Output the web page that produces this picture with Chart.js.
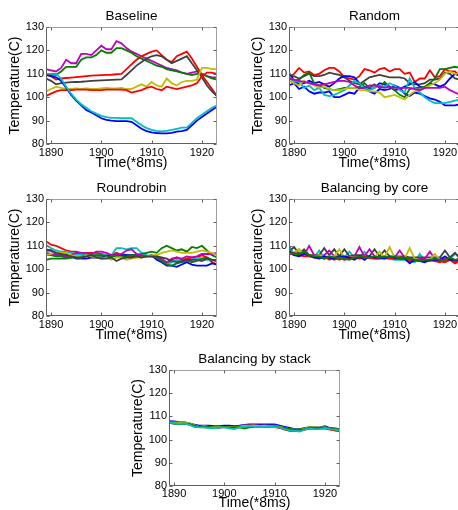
<!DOCTYPE html>
<html>
<head>
<meta charset="utf-8">
<script src="https://cdn.jsdelivr.net/npm/chart.js@4.4.1/dist/chart.umd.min.js"></script>
<style>
  html, body { margin: 0; padding: 0; background: #fff; overflow: hidden; }
  body { width: 458px; height: 510px; position: relative; }
  canvas { position: absolute; }
</style>
</head>
<body>
<canvas id="baseline" width="229" height="170" style="left:0;top:0"></canvas>
<canvas id="random" width="229" height="170" style="left:243px;top:0"></canvas>
<canvas id="roundrobin" width="229" height="170" style="left:0;top:172px"></canvas>
<canvas id="core" width="229" height="170" style="left:243px;top:172px"></canvas>
<canvas id="stack" width="229" height="167" style="left:123px;top:343px"></canvas>
<script>
// time axis (*8ms)
const years = [1889,1890,1891,1892,1893,1894,1895,1896,1897,1898,1899,1900,1901,1902,1903,1904,1905,1906,
  1907,1908,1909,1910,1911,1912,1913,1914,1915,1916,1917,1918,1919,1920,1921,1922,1923];
const xTicks = [1890, 1900, 1910, 1920];
const yTicks = [80, 90, 100, 110, 120, 130];

const BLUE = '#0000ff', GREEN = '#008000', RED = '#ff0000', CYAN = '#00bfbf',
      MAGENTA = '#bf00bf', YELLOW = '#bfbf00', GRAY = '#404040';

// Baseline
const baseMagenta = [112,111.5,111,112.5,116,114.5,114.5,118.5,118.5,118,120,122,120.5,120.5,124,123,121,119.5,118.5,117.5,116.5,115.5,114.5,113.5,112.5,112,111.5,110.5,110,110.5,111,110,109,108.5,108.5];
const baseGreen = [110,109.5,109.5,111,113,113,113,116,117,117,118,120,119,119,121,121,120,119,117.5,116.5,115.5,114.5,113.5,113,112,111.5,111,110.5,110,109.5,110,110,109,108,107.5];
const baseRed1 = [110,109,107.5,108,108.2,108.4,108.6,108.8,109,109.2,109.3,109.4,109.5,109.6,109.8,110,112,114,116,117.5,118.5,119.5,120,118,116,115,117.5,118.5,119.5,116.5,113,109.5,106.5,103.5,100.5];
const baseGray = [108,107,105.5,106,106.2,106.4,106.5,106.6,106.8,107,107.1,107.2,107.3,107.4,107.5,107.6,109.5,111.5,113.5,115,116.5,117.5,118,117.5,116,114.5,115.5,116.5,117.5,114.5,111.5,108.5,105,102.5,100.5];
const baseYellow = [102.5,103.5,104.5,104,103.5,103.5,103.8,103.5,103.8,103.5,103.5,103.8,104,103.8,103.8,104,103.5,103.5,104.5,105.5,104.5,106.5,105,104.5,108,106,105,106.5,107,107,107.5,112.5,112.5,112,112];
const baseRed2 = [100.5,101.5,102.5,103,103,103,103.2,103.2,103.2,103,103,103,103.2,103.2,103.2,103.2,103,102,102.5,103,104,104.5,103.5,103,104.5,104,103.5,104,104.5,105,106,109,110.5,110.5,110];
const baseCyan = [110,110,110,108,104.5,101.5,99,97,95.5,94,93,92,91.5,91.2,91.2,91,91,91,89.5,88,86.8,86,85.6,85.4,85.6,86,86.5,87,87,89,91,92.5,94,95.5,96.5];
const baseBlue = [109.5,109,108.5,107,104,101,98.5,96.5,94.5,93.5,92.3,91,90.3,90,89.8,89.8,89.8,89.5,88,86.5,85.5,85,84.7,84.5,84.5,84.8,85.3,85.5,86,88,90,91.5,93,94.5,96];

// Random
const randRed = [108,110,112.5,110.5,111,109.5,110,111.5,112.5,112.5,111,108.5,108,107.5,109,112,111.5,110.5,112,112.5,111,112,112,110,110.5,106.5,108,108,111.5,108.5,109,112,111,111,109];
const randGray = [108,109,108,109,110,109,109,109.5,110.5,110,109.5,108.5,107,106,105.5,107,108.5,109,109.5,109,108.5,108.5,108.5,108,106,105.5,105.5,106,107.5,107.5,108,110.5,110,108,107.5];
const randBlueA = [110.5,107,105.5,106,107,106,106.5,105.5,104.5,106,108,109,109,108.5,106,104.5,103.5,104,106,105.5,104.5,103,103.5,104.5,105.5,106.5,104.5,104,106,105.5,104.5,105.5,108,110,109];
const randBlueB = [105,106,103.5,104.5,102.5,101.5,102,102,102.5,100,100,101,102,101.5,104,104,102.5,101.5,103.5,103,103.5,105,104,101.5,100.5,102,101.5,100.5,99.5,99,98,96.5,96.5,96.5,97];
const randCyan = [109,107,106.5,104,105,103,104,101,100.5,101,102,103,105,107,106,104,103,104,105,104.5,106,105,103,102,108,104,102,100,98.5,97.5,97.5,97.5,98,98.5,99];
const randGreen = [108,107,107.5,109.5,110.5,106,105,104,103.5,103,103.5,104,104,104,104.5,106,104,105.5,104,106.5,104.5,103,101,100,103.5,104,104,104.5,106,108,112,112,112.5,113,112.5];
const randYellow = [107,106,105,107,106,105,104,104.5,103.5,103,103,103.5,104,104,103,103,102.5,102.5,102,100,100.5,101,100,99,101,102.5,103,104,105,106,107.5,110,111,110,110];
const randMagenta = [108,107.5,107,106.5,106,105.5,105,105.5,106,106.5,107,107,106.5,105,104,104,105,105,104.5,104,104.5,104,104,104,104,103.5,103,104,104,104,104,104.5,103,102,101];

// Roundrobin
const rrRed = [112,110.5,110,109,108,107.5,107.5,107,107,107,107,106.5,106,106,107,106,105.5,105.5,105.5,105.5,105.5,105.5,105,103.5,102,104,105,104,104.5,105,105,106,105,103,102];
const rrCyan = [110.5,109,108,107.5,107.5,107,106.5,106.5,106,106,106,106,106,106,109,109,108.5,109,109,107,106,105.5,105,104,102,103,104,103,103,104,105,104.5,104,104,103.5];
const rrGreen = [104,104.5,104.5,104.5,104.5,105,105.5,105.5,106,106,106,106,105.5,106,106,106.5,106,106,106,106.5,107,107.5,107,109,110,109,108,108.5,107.5,109.5,109,110,108,106,105];
const rrGreen2 = [106,106,105.5,105.5,105,105,105,105,105.5,105.5,105,105,105,105.5,105.5,105.5,105.5,106,106,105.5,105.5,105.5,105,103.5,102,101.5,102.5,103,104,103,103.5,104.5,105,104,104];
const rrBlue = [108,108,106,106,106.5,105.5,104.5,104.5,104.5,105,105,105,105.5,105.5,106,106,106,106,106,105.5,105.5,106,104,103,101.5,101.5,101,102,103,102,101.5,101.5,101.5,102.5,102];
const rrMagenta = [107,106.5,106,106,105.5,106,107,107,107,106.5,107.5,107.5,107,106,106,106.5,108,108.5,106.5,106,105.5,106,105.5,104.5,103,104.5,105,104.5,105.5,105,105.5,106.5,106.5,106.5,107];
const rrYellow = [106,106.5,107.5,107,107,106,105.5,105,106,105.5,105,104.5,105,104,105,105,104,104.5,105,105,105.5,106,106,107,107.5,108,107.5,107,107,107,107.5,108,107.5,107,106];
const rrGray = [108.5,108,107,106.5,106,105.5,105,105,105.5,106,105,104.5,104.5,105,103.5,104.5,105,105,105.5,105,105.5,105.5,105.5,105,104.5,103.5,103,103.5,104,104,104,103.5,104.5,104,103.5];

// Balancing by core
const coreGray = [107.5,109.5,106.5,108.5,106,106,106,109,106,108.5,105.5,108.5,105.5,106,106,106,105.5,108.5,105.5,108,105.5,105.5,105.5,105.5,105,105,105,105,105,105,105,108,105,107,104.5];
const coreMagenta = [107,106.5,106.5,106,110,106,105.5,106,108,105.5,105.5,105,105,105.5,109.5,105.5,108.5,105.5,105,105,105,105,108,105,104.5,104.5,104.5,104.5,107.5,104.5,104.5,104.5,104,104,104];
const coreYellow = [108,107,108.5,106,106,105.5,106,105.5,105.5,105.5,108.5,105,105,105,105,105.5,105,105,107.5,105,109.5,105,105,104.5,109,104.5,104,104,104,106.5,104,103.5,104,103,103.5];
const coreCyan = [110,106.5,108.5,106,106,105,108,105,104.5,105,104.5,105,107.5,105,105,107.5,104.5,104.5,104.5,104.5,104.5,104,104,104,103.5,103,106.5,103.5,104,104,104,104,104.5,106.5,105.5];
const coreRed = [106.5,107,106,106.5,106,105.5,105,105.5,104,105,104,105,105,104.5,105,105.5,105,105,105,105,105,104.5,105,104.5,103,104,103.5,104,104,103.5,103,104,104,102.5,103.5];
const coreBlue = [108,106,105.5,106.5,106,105,104.5,105.5,105,104.5,105.5,105.5,105,104,105.5,104,105.5,105,105,104.5,105.5,105,104.5,104.5,102.5,104,103.5,103,104,104,104,105.5,104,104,104];
const coreGreen = [107,106.5,106.5,107.5,106,105.5,105.5,104.5,105.5,105,105,104.5,104,105,105.5,105,105,105.5,105,105.5,105,105.5,104.5,105,104.5,104,103.5,104,104,104.5,104,104,105,104,104.5];
const coreRed2 = [107,106,106,105.5,105.5,105,105,104.5,105,104,105,104,104.5,105,104.5,105,105,104.5,104.5,105,104.5,104.5,104.5,104.5,104,103.5,104,104,103.5,104,103.5,103,104,103.5,103];

// Balancing by stack
const stackRed = [107.5,107.5,107,107,106.8,106,105.5,105.3,105.3,105.3,105.3,105.5,105.3,105.3,105.5,105.8,105.8,105.8,105.8,105.8,105.8,105.5,105,104.3,103.8,103.8,103.8,104.3,104.8,104.8,104.8,104.8,104.3,104,103.5];
const stackCyan = [107.5,107,106.8,107,106.5,105.5,105.3,105.3,105,105,105.3,105.3,104.8,104.5,105.3,105.5,105.8,105.5,105.5,105.5,105.8,105.5,105.3,104.5,104,103.8,103.5,104.3,104.8,104.5,104.5,105,104.5,104.3,104];
const stackMagenta = [107.3,107.3,107,107.3,106.8,105.8,105.5,105.5,105.3,105.3,105.3,105.3,105.5,105.5,105.3,105.8,106,106.3,106,105.8,105.8,105.8,105.5,104.8,104.3,104.3,104,104.5,105,104.8,104.8,105.3,104.8,104.5,104];
const stackGreen = [107.5,107,106.8,107,106.8,106,105.5,105.5,105.5,105.3,105.3,105.5,105.3,105.3,105.3,104.8,105.3,105.5,105.5,105.5,105.5,105.8,105.3,105,104.5,104.3,104.3,104.5,105.3,105,105,105.3,104.8,104.5,104.3];
const stackYellow = [107.3,107.3,107.3,107.5,107,106.3,105.5,105.8,105.5,105.5,105.5,105.5,105.5,105.3,105.5,106,106,106,105.8,106,105.8,106,105.5,105,104.5,104.3,104.3,104.8,105.5,105.3,105.3,105.3,104.8,104.5,104.3];
const stackGray = [107.3,106.8,106.8,107,106.8,106,105.5,105.5,105.3,105.5,105.3,105.5,105.5,105.5,105.5,105.8,106,106,105.8,105.8,106,106,105.5,105,104.5,104,104,104.5,105,105,105,105.3,104.8,104.5,104.3];
const stackRed2 = [107.8,107.5,107.3,107,106.5,105.8,105.5,105.5,105.5,105.5,105.3,105.5,105.5,105.5,105.8,106,106,106,106,106,106,105.8,105.3,104.8,104,103.8,104,104.3,104.8,104.8,104.8,105,104.5,104,103.8];
const stackBlue = [108,107.8,107.5,107.5,107,106.5,106,106,106,105.8,105.8,106,106,105.8,106,106.3,106.5,106.5,106.5,106.5,106.5,106.5,106,105.5,105,104.5,104.5,105,105.3,105.3,105.3,105.8,105,104.8,104.5];

const FONT = 'Arial, "Liberation Sans", sans-serif';

// box + inward tick marks, matlab style
const frame = {
  id: 'frame',
  afterDatasetsDraw(chart) {
    const { ctx, chartArea: a, scales: { x, y } } = chart;
    const L = a.left + 0.5, R = a.right - 0.5, T = a.top + 0.5, B = a.bottom - 0.5;
    ctx.save();
    ctx.lineWidth = 1;
    ctx.strokeStyle = '#a0a0a0';
    ctx.beginPath();
    ctx.moveTo(L, T); ctx.lineTo(R, T); ctx.lineTo(R, B);
    ctx.stroke();
    ctx.strokeStyle = '#606060';
    ctx.beginPath();
    ctx.moveTo(L, T); ctx.lineTo(L, B); ctx.lineTo(R, B);
    x.ticks.forEach(t => {
      const px = Math.round(x.getPixelForValue(t.value)) + 0.5;
      ctx.moveTo(px, B); ctx.lineTo(px, B - 3);
      ctx.moveTo(px, T); ctx.lineTo(px, T + 3);
    });
    y.ticks.forEach(t => {
      const py = Math.round(y.getPixelForValue(t.value)) + 0.5;
      ctx.moveTo(L, py); ctx.lineTo(L + 3, py);
      ctx.moveTo(R, py); ctx.lineTo(R - 3, py);
    });
    ctx.stroke();
    ctx.restore();
  }
};

function toPoints(vals) {
  return years.map((t, i) => ({ x: t, y: vals[i] }));
}

function makeChart(id, title, series, opts) {
  const o = Object.assign({ xH: 26, tickPad: 2, xTitlePad: 0 }, opts || {});
  new Chart(document.getElementById(id), {
    type: 'line',
    data: {
      datasets: series.map(([vals, color]) => ({
        data: toPoints(vals),
        borderColor: color,
        backgroundColor: color,
        borderWidth: 1.8,
        pointRadius: 0,
        tension: 0,
        fill: false
      }))
    },
    options: {
      responsive: false,
      animation: false,
      events: [],
      layout: { padding: { left: 0, right: 12, top: 0, bottom: 0 } },
      plugins: {
        legend: { display: false },
        tooltip: { enabled: false },
        title: {
          display: true,
          text: title,
          fullSize: false,
          color: '#000',
          font: { family: FONT, size: 13.5, weight: 'normal', lineHeight: 1.2 },
          padding: { top: 8, bottom: 2.8 }
        }
      },
      scales: {
        x: {
          type: 'linear',
          min: 1889,
          max: 1923,
          afterBuildTicks: s => { s.ticks = xTicks.map(v => ({ value: v })); },
          afterFit: s => { s.height = o.xH; },
          grid: { display: false, drawTicks: false, tickLength: 0 },
          border: { display: false },
          ticks: {
            color: '#000', padding: o.tickPad, maxRotation: 0, autoSkip: false,
            font: { family: FONT, size: 11 },
            callback: v => String(v)
          },
          title: {
            display: true, text: 'Time(*8ms)', color: '#000',
            font: { family: FONT, size: 14, lineHeight: 1 },
            padding: { top: 0, bottom: o.xTitlePad }
          }
        },
        y: {
          min: 80,
          max: 130,
          afterBuildTicks: s => { s.ticks = yTicks.map(v => ({ value: v })); },
          afterFit: s => { s.width = 46; },
          grid: { display: false, drawTicks: false, tickLength: 0 },
          border: { display: false },
          ticks: {
            color: '#000', padding: 2,
            font: { family: FONT, size: 11 },
            callback: v => String(v)
          },
          title: {
            display: true, text: 'Temperature(C)', color: '#000',
            font: { family: FONT, size: 14, lineHeight: 1 },
            padding: { top: 8, bottom: 0 }
          }
        }
      }
    },
    plugins: [frame]
  });
}

makeChart('baseline', 'Baseline', [
  [baseCyan, CYAN], [baseBlue, BLUE], [baseRed2, RED], [baseYellow, YELLOW],
  [baseGray, GRAY], [baseRed1, RED], [baseGreen, GREEN], [baseMagenta, MAGENTA]
]);
makeChart('random', 'Random', [
  [randMagenta, MAGENTA], [randYellow, YELLOW], [randCyan, CYAN], [randGreen, GREEN],
  [randBlueB, BLUE], [randBlueA, BLUE], [randGray, GRAY], [randRed, RED]
]);
makeChart('roundrobin', 'Roundrobin', [
  [rrGray, GRAY], [rrYellow, YELLOW], [rrMagenta, MAGENTA], [rrGreen2, GREEN],
  [rrBlue, BLUE], [rrGreen, GREEN], [rrCyan, CYAN], [rrRed, RED]
]);
makeChart('core', 'Balancing by core', [
  [coreGreen, GREEN], [coreBlue, BLUE], [coreRed2, RED], [coreRed, RED],
  [coreYellow, YELLOW], [coreMagenta, MAGENTA], [coreGray, GRAY], [coreCyan, CYAN]
]);
makeChart('stack', 'Balancing by stack', [
  [stackCyan, CYAN], [stackGreen, GREEN], [stackYellow, YELLOW], [stackGray, GRAY],
  [stackRed2, RED], [stackRed, RED], [stackMagenta, MAGENTA], [stackBlue, BLUE]
], { xH: 24, tickPad: 1, xTitlePad: 0 });
</script>
</body>
</html>
